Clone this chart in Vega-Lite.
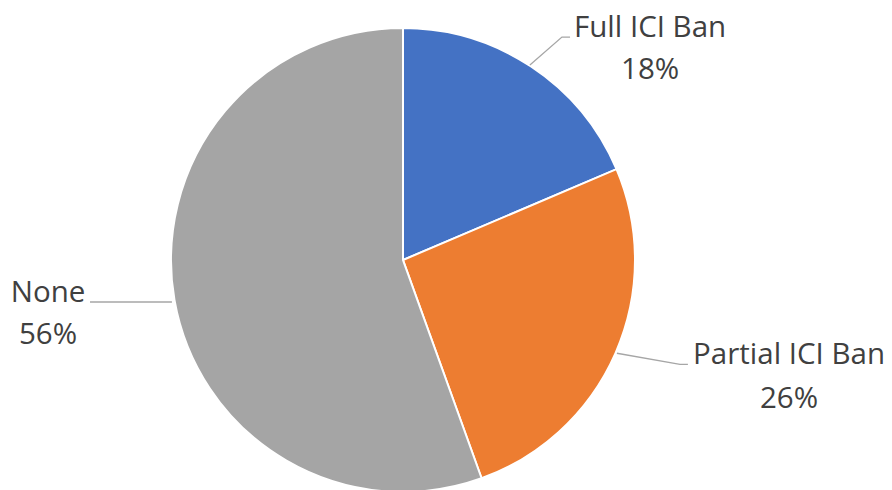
{
  "$schema": "https://vega.github.io/schema/vega-lite/v6.json",
  "width": 806,
  "height": 460,
  "autosize": {"type": "none"},
  "padding": {"left": 0, "top": 30, "right": 86, "bottom": 0},
  "background": "white",
  "view": {"stroke": null},
  "datasets": {
    "slices": [
      {"category": "Full ICI Ban", "share": 18.6, "order": 1},
      {"category": "Partial ICI Ban", "share": 25.9, "order": 2},
      {"category": "None", "share": 55.5, "order": 3}
    ],
    "labels": [
      {"category": "Full ICI Ban", "pct": "18%", "lx": 106.5, "ly_name": 96.1, "ly_pct": 78.0},
      {"category": "Partial ICI Ban", "pct": "26%", "lx": 166.4, "ly_name": -44.8, "ly_pct": -63.8},
      {"category": "None", "pct": "56%", "lx": -153.0, "ly_name": -18.1, "ly_pct": -36.2}
    ],
    "leaders": [
      {"series": "Full ICI Ban", "i": 1, "x": 54.7, "y": 84.1},
      {"series": "Full ICI Ban", "i": 2, "x": 68.5, "y": 96.1},
      {"series": "Full ICI Ban", "i": 3, "x": 72.0, "y": 96.1},
      {"series": "Partial ICI Ban", "i": 1, "x": 92.2, "y": -40.2},
      {"series": "Partial ICI Ban", "i": 2, "x": 119.4, "y": -45.0},
      {"series": "Partial ICI Ban", "i": 3, "x": 122.8, "y": -45.0},
      {"series": "None", "i": 1, "x": -134.9, "y": -18.1},
      {"series": "None", "i": 2, "x": -99.6, "y": -18.1}
    ]
  },
  "layer": [
    {
      "data": {"name": "slices"},
      "mark": {"type": "arc", "radius": 232, "stroke": "white", "strokeWidth": 2},
      "encoding": {
        "theta": {"field": "share", "type": "quantitative", "stack": true},
        "order": {"field": "order", "type": "quantitative"},
        "color": {
          "field": "category",
          "type": "nominal",
          "scale": {"domain": ["Full ICI Ban", "Partial ICI Ban", "None"], "range": ["#4472C4", "#ED7D31", "#A5A5A5"]},
          "legend": null
        }
      }
    },
    {
      "data": {"name": "leaders"},
      "mark": {"type": "line", "color": "#A6A6A6", "strokeWidth": 1.3},
      "encoding": {
        "x": {"field": "x", "type": "quantitative", "scale": {"domain": [-173.7, 173.7], "nice": false, "zero": false}, "axis": null},
        "y": {"field": "y", "type": "quantitative", "scale": {"domain": [-99.14, 99.14], "nice": false, "zero": false}, "axis": null},
        "detail": {"field": "series", "type": "nominal"},
        "order": {"field": "i", "type": "quantitative"}
      }
    },
    {
      "data": {"name": "labels"},
      "mark": {"type": "text", "font": "Open Sans", "fontSize": 29.5, "color": "#404040", "align": "center", "baseline": "alphabetic"},
      "encoding": {
        "x": {"field": "lx", "type": "quantitative", "scale": {"domain": [-173.7, 173.7], "nice": false, "zero": false}, "axis": null},
        "y": {"field": "ly_name", "type": "quantitative", "scale": {"domain": [-99.14, 99.14], "nice": false, "zero": false}, "axis": null},
        "text": {"field": "category"}
      }
    },
    {
      "data": {"name": "labels"},
      "mark": {"type": "text", "font": "Open Sans", "fontSize": 29.5, "color": "#404040", "align": "center", "baseline": "alphabetic"},
      "encoding": {
        "x": {"field": "lx", "type": "quantitative", "scale": {"domain": [-173.7, 173.7], "nice": false, "zero": false}, "axis": null},
        "y": {"field": "ly_pct", "type": "quantitative", "scale": {"domain": [-99.14, 99.14], "nice": false, "zero": false}, "axis": null},
        "text": {"field": "pct"}
      }
    }
  ]
}
